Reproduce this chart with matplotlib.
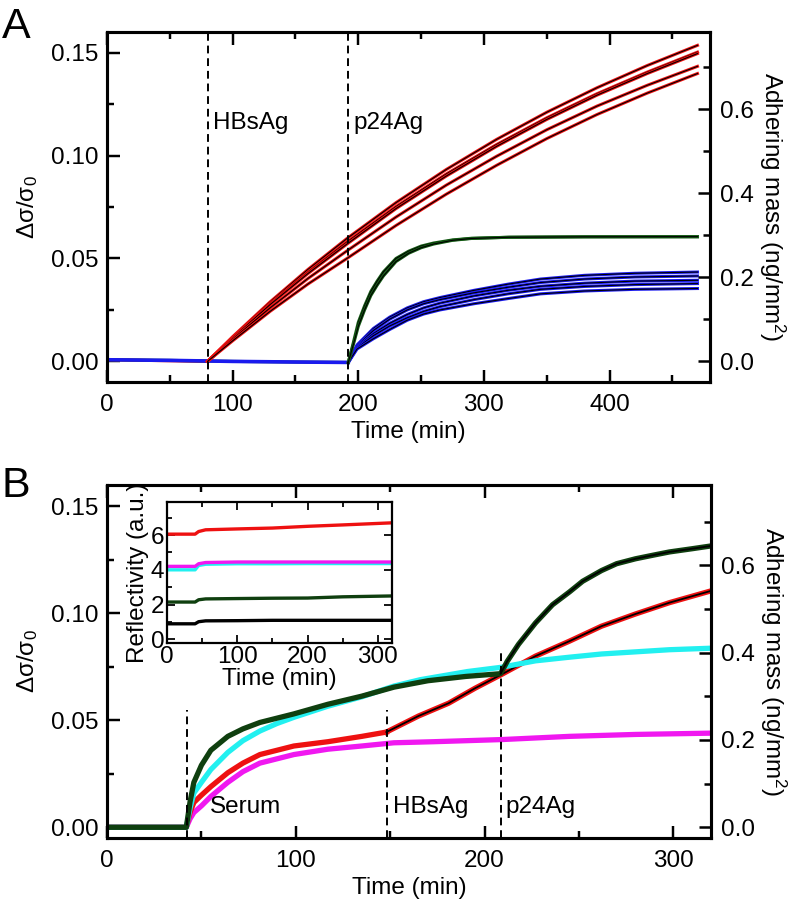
import matplotlib.pyplot as plt
from matplotlib.ticker import MultipleLocator

plt.rcParams["font.family"] = ["Liberation Sans", "DejaVu Sans"]
plt.rcParams["mathtext.fontset"] = "custom"
plt.rcParams["mathtext.rm"] = "Liberation Sans"
plt.rcParams["mathtext.it"] = "Liberation Sans:italic"
plt.rcParams["font.size"] = 17.5

# conversion between delta sigma / sigma0 and adhering mass (ng/mm^2)
MASS_PER_SIGMA = 4.9

RED = "#ee1111"
BLUE = "#1a1aee"
GREEN_A = "#145a14"
GREEN_B = "#0f3f0f"
CYAN = "#22f0f0"
MAGENTA = "#f018f0"

# ---- panel A ----
injections_a = [80, 192]
injection_names_a = ["HBsAg", "p24Ag"]

t_base_a = [0, 50, 100, 150, 192]
base_a = [0.0008, 0.0005, 0.0, -0.0003, -0.0005]
t_base_red = [0, 40, 80]
base_red = [0.0008, 0.0004, 0.0]

t_red_a = [80, 100, 130, 160, 191, 230, 270, 310, 350, 390, 430, 470]
red_a = [
    [0, 0.0120, 0.0290, 0.0447, 0.0597, 0.0771, 0.0932, 0.1078, 0.1210, 0.1329, 0.1437, 0.1535],
    [0, 0.0116, 0.0282, 0.0434, 0.0580, 0.0752, 0.0910, 0.1053, 0.1183, 0.1300, 0.1405, 0.1502],
    [0, 0.0114, 0.0277, 0.0427, 0.0570, 0.0742, 0.0900, 0.1044, 0.1175, 0.1293, 0.1398, 0.1495],
    [0, 0.0108, 0.0261, 0.0403, 0.0537, 0.0701, 0.0856, 0.0996, 0.1125, 0.1240, 0.1341, 0.1433],
    [0, 0.0100, 0.0244, 0.0376, 0.0500, 0.0660, 0.0812, 0.0952, 0.1082, 0.1199, 0.1303, 0.1398],
]

t_green_a = [192, 196, 200, 205, 210, 215, 220, 230, 240, 250, 260, 275, 290, 320, 380, 470]
green_a = [
    [-0.0005, 0.009, 0.019, 0.027, 0.034, 0.039, 0.0435, 0.050, 0.0535, 0.056, 0.0575, 0.059, 0.0598, 0.0603, 0.0605, 0.0605],
    [-0.0005, 0.008, 0.017, 0.025, 0.032, 0.037, 0.0415, 0.0485, 0.0525, 0.0552, 0.057, 0.0588, 0.0597, 0.0603, 0.0605, 0.0606],
]

t_blue_a = [192, 199, 212, 225, 239, 252, 265, 292, 319, 345, 380, 420, 470]
blue_a = [
    [-0.0005, 0.008, 0.016, 0.0215, 0.026, 0.029, 0.031, 0.0345, 0.0375, 0.040, 0.0418, 0.0428, 0.0434],
    [-0.0005, 0.0075, 0.015, 0.0205, 0.025, 0.028, 0.030, 0.0333, 0.036, 0.0383, 0.0400, 0.0410, 0.0415],
    [-0.0005, 0.007, 0.0135, 0.0185, 0.0228, 0.026, 0.0283, 0.0318, 0.0345, 0.0365, 0.0380, 0.0390, 0.0394],
    [-0.0005, 0.0065, 0.0125, 0.0172, 0.0212, 0.0243, 0.0266, 0.030, 0.0328, 0.035, 0.0364, 0.0373, 0.0378],
    [-0.0005, 0.006, 0.011, 0.0155, 0.020, 0.023, 0.025, 0.028, 0.0305, 0.0328, 0.0342, 0.0350, 0.0354],
]

# ---- panel B ----
injections_b = [42.5, 148.5, 208.5]
injection_names_b = ["Serum", "HBsAg", "p24Ag"]
injection_tops_b = [0.055, 0.055, 0.083]
label_offsets_b = [12, 3, 2.5]

t_green_b = [0, 42, 44, 46, 50, 55, 64, 72, 81, 90, 99, 117, 135, 152, 170, 190, 208.5,
             212, 218, 227, 236, 245, 252, 262, 270, 280, 290, 298, 310, 320]
green_b = [0, 0, 0.012, 0.021, 0.029, 0.036, 0.0425, 0.046, 0.049, 0.051, 0.053, 0.0575, 0.0613,
           0.0655, 0.0685, 0.0705, 0.0718, 0.0775, 0.0855, 0.0955, 0.104, 0.110, 0.115, 0.120,
           0.1232, 0.1255, 0.1273, 0.1287, 0.1302, 0.1315]

t_cyan_b = [0, 42, 44, 46, 50, 55, 64, 72, 81, 90, 99, 117, 135, 152, 166, 191, 209, 227,
            245, 262, 280, 298, 320]
cyan_b = [0, 0, 0.009, 0.016, 0.021, 0.027, 0.035, 0.0405, 0.045, 0.0485, 0.0514, 0.0566, 0.061,
          0.066, 0.069, 0.0728, 0.0748, 0.0778, 0.0795, 0.081, 0.082, 0.083, 0.0837]

t_red_b = [0, 42, 44, 46, 50, 55, 64, 72, 81, 90, 99, 117, 135, 148]
red_b = [0, 0, 0.007, 0.0116, 0.015, 0.019, 0.0255, 0.030, 0.034, 0.036, 0.038, 0.040, 0.0425, 0.0445]
t_red_fit_b = [148, 165, 181, 195, 208.5, 227, 245, 262, 280, 298, 320]
red_fit_b = [0.0445, 0.052, 0.058, 0.065, 0.0712, 0.080, 0.087, 0.094, 0.0997, 0.105, 0.1105]

t_magenta_b = [0, 42, 44, 46, 50, 55, 64, 72, 81, 90, 99, 117, 135, 152, 173, 209, 245, 280, 320]
magenta_b = [0, 0, 0.004, 0.0069, 0.010, 0.0144, 0.021, 0.026, 0.030, 0.032, 0.034, 0.0365,
             0.038, 0.0395, 0.040, 0.041, 0.0425, 0.0434, 0.044]

# ---- inset (reflectivity) ----
t_inset = [0, 40, 45, 55, 100, 150, 200, 250, 320]
refl_red = [6.05, 6.05, 6.2, 6.3, 6.35, 6.4, 6.5, 6.58, 6.7]
refl_magenta = [4.2, 4.2, 4.35, 4.42, 4.45, 4.45, 4.45, 4.45, 4.45]
refl_cyan = [4.0, 4.0, 4.25, 4.32, 4.35, 4.35, 4.36, 4.36, 4.36]
refl_green = [2.15, 2.15, 2.28, 2.33, 2.35, 2.37, 2.38, 2.45, 2.5]
refl_black = [0.9, 0.9, 1.02, 1.07, 1.08, 1.1, 1.1, 1.1, 1.1]


def style_axes(ax, lw=2.2, major=9, minor=5):
    for s in ax.spines.values():
        s.set_linewidth(lw)
    ax.tick_params(which="both", direction="in", top=True, width=lw * 0.8)
    ax.tick_params(which="major", length=major)
    ax.tick_params(which="minor", length=minor)


def add_mass_axis(ax):
    ax2 = ax.twinx()
    lo, hi = ax.get_ylim()
    ax2.set_ylim(lo * MASS_PER_SIGMA, hi * MASS_PER_SIGMA)
    ax2.yaxis.set_major_locator(MultipleLocator(0.2))
    ax2.yaxis.set_minor_locator(MultipleLocator(0.1))
    ax2.yaxis.set_major_formatter(plt.FormatStrFormatter("%.1f"))
    ax2.tick_params(which="both", direction="in", width=1.8, pad=7)
    ax2.tick_params(which="major", length=9)
    ax2.tick_params(which="minor", length=5)
    ax2.set_ylabel("Adhering mass (ng/mm$^2$)", rotation=270, labelpad=24)
    for s in ax2.spines.values():
        s.set_linewidth(2.2)
    return ax2


fig = plt.figure(figsize=(7.97, 9.08), dpi=100)

# panel A
ax_a = fig.add_axes([0.1343, 0.5793, 0.7566, 0.3855])
ax_a.plot(t_base_red, base_red, color=RED, lw=2.2)
ax_a.plot(t_base_a, base_a, color=GREEN_A, lw=2.2)
ax_a.plot(t_base_a, base_a, color=BLUE, lw=2.6)
for ys in blue_a:
    ax_a.plot(t_blue_a, ys, color=BLUE, lw=2.2)
    ax_a.plot(t_blue_a, ys, color="black", lw=0.8)
for ys in green_a:
    ax_a.plot(t_green_a, ys, color=GREEN_A, lw=2.2)
    ax_a.plot(t_green_a, ys, color="black", lw=0.8)
for ys in red_a:
    ax_a.plot(t_red_a, ys, color=RED, lw=2.2)
    ax_a.plot(t_red_a, ys, color="black", lw=0.8)
for t, name in zip(injections_a, injection_names_a):
    ax_a.axvline(t, color="black", lw=1.4, ls=(0, (4, 2.5)))
    ax_a.text(t + 4, 0.116, name, va="center", ha="left")
ax_a.set_xlim(0, 480)
ax_a.set_ylim(-0.01, 0.16)
ax_a.xaxis.set_major_locator(MultipleLocator(100))
ax_a.xaxis.set_minor_locator(MultipleLocator(50))
ax_a.yaxis.set_major_locator(MultipleLocator(0.05))
ax_a.yaxis.set_minor_locator(MultipleLocator(0.025))
ax_a.yaxis.set_major_formatter(plt.FormatStrFormatter("%.2f"))
style_axes(ax_a)
ax_a.tick_params(axis="x", pad=9)
ax_a.tick_params(axis="y", pad=6)
ax_a.set_xlabel("Time (min)", labelpad=3)
ax_a.set_ylabel("Δσ/σ$_0$", labelpad=8)
add_mass_axis(ax_a)
fig.text(0.002, 0.958, "A", fontsize=31, va="baseline", ha="left")

# panel B
ax_b = fig.add_axes([0.1343, 0.0771, 0.7578, 0.3888])
ax_b.plot(t_magenta_b, magenta_b, color=MAGENTA, lw=3.8)
ax_b.plot(t_red_b, red_b, color=RED, lw=3.8)
ax_b.plot(t_red_fit_b, red_fit_b, color=RED, lw=3.8)
ax_b.plot(t_red_fit_b, red_fit_b, color="black", lw=1.3)
ax_b.plot(t_cyan_b, cyan_b, color=CYAN, lw=3.8)
ax_b.plot(t_green_b, green_b, color=GREEN_B, lw=3.8)
fit_start = t_green_b.index(208.5)
ax_b.plot(t_green_b[fit_start:], green_b[fit_start:], color="black", lw=1.3)
for t, name, top, off in zip(injections_b, injection_names_b, injection_tops_b, label_offsets_b):
    ax_b.plot([t, t], [-0.005, top], color="black", lw=1.4, ls=(0, (4, 2.5)))
    ax_b.text(t + off, 0.0097, name, va="center", ha="left")
ax_b.set_xlim(0, 320)
ax_b.set_ylim(-0.005, 0.16)
ax_b.xaxis.set_major_locator(MultipleLocator(100))
ax_b.xaxis.set_minor_locator(MultipleLocator(50))
ax_b.yaxis.set_major_locator(MultipleLocator(0.05))
ax_b.yaxis.set_minor_locator(MultipleLocator(0.025))
ax_b.yaxis.set_major_formatter(plt.FormatStrFormatter("%.2f"))
style_axes(ax_b)
ax_b.tick_params(axis="x", pad=9)
ax_b.tick_params(axis="y", pad=6)
ax_b.set_xlabel("Time (min)", labelpad=3)
ax_b.set_ylabel("Δσ/σ$_0$", labelpad=8)
add_mass_axis(ax_b)
fig.text(0.002, 0.4526, "B", fontsize=31, va="baseline", ha="left")

# inset
ax_in = fig.add_axes([0.2095, 0.2919, 0.2823, 0.1553])
ax_in.plot(t_inset, refl_red, color=RED, lw=2.4)
ax_in.plot(t_inset, refl_cyan, color=CYAN, lw=2.4)
ax_in.plot(t_inset, refl_magenta, color=MAGENTA, lw=2.4)
ax_in.plot(t_inset, refl_green, color=GREEN_B, lw=2.4)
ax_in.plot(t_inset, refl_black, color="black", lw=2.4)
ax_in.set_xlim(0, 320)
ax_in.set_ylim(-0.2, 7.9)
ax_in.xaxis.set_major_locator(MultipleLocator(100))
ax_in.xaxis.set_minor_locator(MultipleLocator(50))
ax_in.yaxis.set_major_locator(MultipleLocator(2))
ax_in.yaxis.set_minor_locator(MultipleLocator(1))
style_axes(ax_in, lw=1.6, major=6, minor=3.5)
ax_in.tick_params(right=True)
ax_in.tick_params(axis="x", pad=2)
ax_in.tick_params(axis="y", pad=2)
ax_in.set_xlabel("Time (min)", labelpad=0)
ax_in.set_ylabel("Reflectivity (a.u.)", labelpad=1)

fig.savefig("out.png", dpi=100)
